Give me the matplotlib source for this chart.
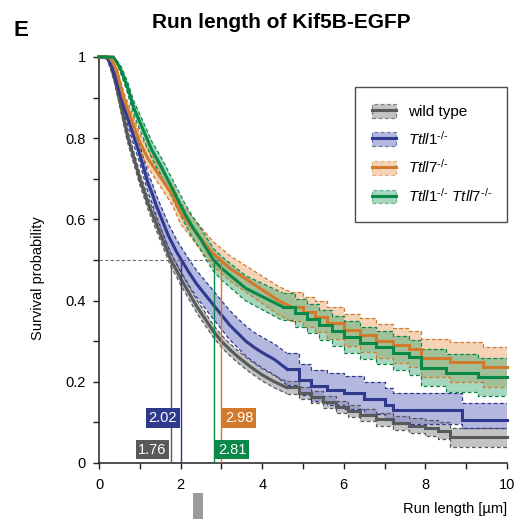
"""Kaplan-Meier style survival curves: run length of Kif5B-EGFP."""
import matplotlib
matplotlib.use("Agg")
import matplotlib.pyplot as plt
from matplotlib.patches import Patch, Rectangle
from matplotlib.lines import Line2D

plt.rcParams["font.family"] = ["Liberation Sans", "DejaVu Sans"]
plt.rcParams["mathtext.fontset"] = "custom"
plt.rcParams["mathtext.rm"] = "Liberation Sans"
plt.rcParams["mathtext.it"] = "Liberation Sans:italic"

# ---- data ----
# early parts are dense KM steps (drawn as a polyline), later parts as steps
wt_x = [0, 0.2, 0.3, 0.4, 0.5, 0.6, 0.7, 0.8, 0.9, 1.0, 1.1, 1.2, 1.3, 1.4, 1.5, 1.6,
        1.76, 1.9, 2.0, 2.2, 2.4, 2.6, 2.8, 3.0, 3.2, 3.4, 3.7, 4.0, 4.3, 4.6, 4.9,
        5.2, 5.5, 5.8, 6.1, 6.4, 6.8, 7.2, 7.6, 8.0, 8.3, 8.6, 10]
wt_y = [1, 1, 0.975, 0.94, 0.895, 0.85, 0.805, 0.77, 0.735, 0.70, 0.67, 0.64, 0.615,
        0.59, 0.565, 0.54, 0.50, 0.475, 0.455, 0.42, 0.385, 0.355, 0.325, 0.30, 0.28,
        0.262, 0.238, 0.217, 0.20, 0.186, 0.173, 0.162, 0.150, 0.137, 0.128, 0.118,
        0.108, 0.098, 0.092, 0.086, 0.08, 0.064, 0.064]
wt_lo = [1, 0.995, 0.965, 0.928, 0.882, 0.836, 0.79, 0.755, 0.72, 0.685, 0.655, 0.625,
         0.599, 0.574, 0.549, 0.524, 0.484, 0.459, 0.439, 0.404, 0.369, 0.339, 0.31,
         0.285, 0.265, 0.247, 0.223, 0.202, 0.185, 0.171, 0.158, 0.147, 0.135, 0.122,
         0.113, 0.103, 0.092, 0.081, 0.074, 0.067, 0.06, 0.04, 0.04]
wt_hi = [1, 1, 0.985, 0.952, 0.908, 0.864, 0.82, 0.785, 0.75, 0.715, 0.685, 0.655,
         0.631, 0.606, 0.581, 0.556, 0.516, 0.491, 0.471, 0.436, 0.401, 0.371, 0.34,
         0.315, 0.295, 0.277, 0.253, 0.232, 0.215, 0.201, 0.188, 0.177, 0.165, 0.152,
         0.143, 0.133, 0.124, 0.115, 0.11, 0.105, 0.1, 0.086, 0.086]

t1_x = [0, 0.2, 0.3, 0.4, 0.5, 0.6, 0.7, 0.8, 0.9, 1.0, 1.1, 1.2, 1.3, 1.4, 1.5, 1.6,
        1.7, 1.8, 1.9, 2.02, 2.2, 2.4, 2.6, 2.8, 3.0, 3.2, 3.4, 3.6, 3.8, 4.0, 4.3,
        4.6, 4.9, 5.2, 5.6, 6.0, 6.5, 7.0, 7.2, 8.9, 10]
t1_y = [1, 1, 0.98, 0.95, 0.915, 0.88, 0.85, 0.82, 0.79, 0.76, 0.725, 0.69, 0.665,
        0.635, 0.61, 0.585, 0.56, 0.54, 0.52, 0.50, 0.47, 0.44, 0.415, 0.39, 0.365,
        0.34, 0.32, 0.30, 0.285, 0.272, 0.255, 0.232, 0.205, 0.19, 0.18, 0.172,
        0.158, 0.142, 0.13, 0.106, 0.106]
t1_lo = [1, 0.995, 0.97, 0.938, 0.901, 0.864, 0.832, 0.8, 0.769, 0.738, 0.702, 0.666,
         0.64, 0.609, 0.583, 0.557, 0.531, 0.51, 0.49, 0.469, 0.438, 0.407, 0.381,
         0.355, 0.33, 0.304, 0.284, 0.263, 0.248, 0.234, 0.217, 0.193, 0.167, 0.152,
         0.142, 0.133, 0.12, 0.105, 0.095, 0.085, 0.085]
t1_hi = [1, 1, 0.99, 0.962, 0.929, 0.896, 0.868, 0.84, 0.811, 0.782, 0.748, 0.714,
         0.69, 0.661, 0.637, 0.613, 0.589, 0.57, 0.55, 0.531, 0.502, 0.473, 0.449,
         0.425, 0.4, 0.376, 0.356, 0.337, 0.322, 0.31, 0.293, 0.271, 0.245, 0.23,
         0.221, 0.214, 0.2, 0.184, 0.172, 0.147, 0.147]

t7_x = [0, 0.25, 0.35, 0.45, 0.6, 0.8, 1.0, 1.2, 1.4, 1.6, 1.8, 2.0, 2.2, 2.4, 2.6,
        2.8, 2.98, 3.2, 3.5, 3.8, 4.1, 4.4, 4.7, 5.0, 5.3, 5.6, 6.0, 6.4, 6.8, 7.2,
        7.6, 7.9, 8.6, 9.4, 10]
t7_y = [1, 1, 0.985, 0.96, 0.9, 0.845, 0.79, 0.75, 0.72, 0.69, 0.66, 0.615, 0.59,
        0.565, 0.54, 0.515, 0.5, 0.48, 0.46, 0.44, 0.42, 0.40, 0.385, 0.372, 0.36,
        0.345, 0.328, 0.315, 0.30, 0.29, 0.28, 0.259, 0.249, 0.236, 0.236]
t7_lo = [1, 1, 0.98, 0.95, 0.885, 0.827, 0.77, 0.728, 0.697, 0.666, 0.635, 0.589,
         0.563, 0.537, 0.511, 0.485, 0.47, 0.449, 0.428, 0.407, 0.386, 0.365, 0.349,
         0.335, 0.322, 0.306, 0.288, 0.274, 0.258, 0.247, 0.236, 0.212, 0.2, 0.186,
         0.186]
t7_hi = [1, 1, 0.99, 0.97, 0.915, 0.863, 0.81, 0.772, 0.743, 0.714, 0.685, 0.641,
         0.617, 0.593, 0.569, 0.545, 0.53, 0.511, 0.492, 0.473, 0.454, 0.435, 0.421,
         0.409, 0.398, 0.384, 0.368, 0.356, 0.342, 0.333, 0.324, 0.306, 0.298, 0.286,
         0.286]

dko_x = [0, 0.35, 0.45, 0.55, 0.7, 0.85, 1.0, 1.15, 1.3, 1.5, 1.7, 1.9, 2.1, 2.3,
         2.5, 2.65, 2.81, 3.0, 3.3, 3.6, 3.9, 4.2, 4.5, 4.8, 5.1, 5.4, 5.7, 6.0, 6.4,
         6.8, 7.2, 7.6, 7.9, 8.5, 9.3, 10]
dko_y = [1, 1, 0.985, 0.965, 0.925, 0.875, 0.84, 0.805, 0.77, 0.735, 0.695, 0.655,
         0.615, 0.58, 0.55, 0.525, 0.5, 0.48, 0.455, 0.43, 0.415, 0.40, 0.385, 0.37,
         0.355, 0.34, 0.325, 0.31, 0.295, 0.285, 0.27, 0.26, 0.235, 0.222, 0.212,
         0.212]
dko_lo = [1, 1, 0.98, 0.955, 0.911, 0.858, 0.821, 0.785, 0.749, 0.713, 0.672, 0.631,
          0.59, 0.554, 0.523, 0.497, 0.472, 0.451, 0.425, 0.399, 0.383, 0.367, 0.351,
          0.335, 0.319, 0.303, 0.287, 0.271, 0.255, 0.244, 0.228, 0.216, 0.19, 0.176,
          0.166, 0.166]
dko_hi = [1, 1, 0.99, 0.975, 0.939, 0.892, 0.859, 0.825, 0.791, 0.757, 0.718, 0.679,
          0.64, 0.606, 0.577, 0.553, 0.528, 0.509, 0.485, 0.461, 0.447, 0.433, 0.419,
          0.405, 0.391, 0.377, 0.363, 0.349, 0.335, 0.326, 0.312, 0.304, 0.28, 0.268,
          0.258, 0.258]

medians = [1.76, 2.02, 2.81, 2.98]
median_labels = ["1.76", "2.02", "2.81", "2.98"]

# ---- styling ----
LINE = ["#58595b", "#2f3a8f", "#d27a2c", "#0a8847"]
FILL = ["#a9aaac", "#8387c8", "#eba86f", "#4fae7c"]
ALPHA = [0.7, 0.6, 0.5, 0.5]
SUP = r"^{\text{-/-}}"
NAMES = ["wild type", r"$\mathit{Ttll1}" + SUP + "$", r"$\mathit{Ttll7}" + SUP + "$",
         r"$\mathit{Ttll1}" + SUP + r"\ \mathit{Ttll7}" + SUP + "$"]
STEP_FROM = 4.5  # beyond this x the KM steps are clearly visible

curves = [(wt_x, wt_y, wt_lo, wt_hi), (t1_x, t1_y, t1_lo, t1_hi),
          (t7_x, t7_y, t7_lo, t7_hi), (dko_x, dko_y, dko_lo, dko_hi)]


def split(x, *ys):
    """Split a series into the smooth early part and the stepped late part."""
    k = next(i for i, v in enumerate(x) if v >= STEP_FROM)
    early = [x[:k + 1]] + [y[:k + 1] for y in ys]
    late = [x[k:]] + [y[k:] for y in ys]
    return early, late


fig = plt.figure(figsize=(5.15, 5.19), dpi=100)
ax = fig.add_axes([99 / 515, 56 / 519, 408 / 515, 406 / 519])

for (x, y, lo, hi), c, f, a in zip(curves, LINE, FILL, ALPHA):
    (ex, elo, ehi), (lx, llo, lhi) = split(x, lo, hi)
    ax.fill_between(ex, elo, ehi, color=f, alpha=a, lw=0, zorder=1)
    ax.fill_between(lx, llo, lhi, step="post", color=f, alpha=a, lw=0, zorder=1)
for (x, y, lo, hi), c in zip(curves, LINE):
    (ex, elo, ehi), (lx, llo, lhi) = split(x, lo, hi)
    for b in (elo, ehi):
        ax.plot(ex, b, color=c, lw=0.9, ls=(0, (3, 2)), zorder=2, clip_on=False)
    for b in (llo, lhi):
        ax.plot(lx, b, drawstyle="steps-post", color=c, lw=0.9, ls=(0, (3, 2)),
                zorder=2)
for (x, y, lo, hi), c in zip(curves, LINE):
    (ex, ey), (lx, ly) = split(x, y)
    ax.plot(ex, ey, color=c, lw=2.2, zorder=3, clip_on=False)
    ax.plot(lx, ly, drawstyle="steps-post", color=c, lw=2.2, zorder=3,
            solid_joinstyle="miter", clip_on=False)

# median markers
ax.plot([0, max(medians)], [0.5, 0.5], color="#6d6e70", lw=0.8, ls=(0, (3, 2)), zorder=4)
med_color = [LINE[0], LINE[1], LINE[3], LINE[2]]
for m, c in zip(medians, med_color):
    ax.plot([m, m], [0, 0.5], color=c, lw=1.0, zorder=4)

box_pos = [(0.033, "right"), (0.111, "right"), (0.033, "left"), (0.111, "left")]
for m, lab, c, (yy, ha) in zip(medians, median_labels, med_color, box_pos):
    dx = -3 if ha == "right" else 3
    ax.annotate(lab, xy=(m, yy), xytext=(dx, 0), textcoords="offset points",
                ha=ha, va="center", color="white", fontsize=10.5, zorder=5,
                bbox=dict(boxstyle="square,pad=0.18", fc=c, ec="none"))

ax.set_xlim(0, 10)
ax.set_ylim(0, 1)
ax.set_xticks(range(0, 11, 2))
ax.set_xticks(range(0, 11), minor=True)
ax.set_yticks([0, 0.2, 0.4, 0.6, 0.8, 1])
ax.set_yticklabels(["0", "0.2", "0.4", "0.6", "0.8", "1"])
ax.set_yticks([i / 10 for i in range(11)], minor=True)
ax.tick_params(which="both", direction="out", length=4.5, width=1.0,
               labelsize=10.5, color="#231f20")
ax.tick_params(axis="x", pad=6)
ax.tick_params(axis="y", pad=5)
for s in ("top", "right"):
    ax.spines[s].set_visible(False)
for s in ("left", "bottom"):
    ax.spines[s].set_linewidth(1.1)
    ax.spines[s].set_color("#231f20")

handles = [(Patch(fc=f, alpha=a, ec=c, ls=(0, (3, 2)), lw=0.9),
            Line2D([], [], color=c, lw=2.2)) for c, f, a in zip(LINE, FILL, ALPHA)]
leg = ax.legend(handles, NAMES, loc="upper left",
                bbox_to_anchor=(0.627, 0.926, 0.373, 0.0), mode="expand",
                fontsize=11, frameon=True, fancybox=False, borderpad=1.1,
                labelspacing=0.7, handlelength=1.6, handleheight=1.0,
                handletextpad=0.8, borderaxespad=0)
leg.get_frame().set_edgecolor("#231f20")
leg.get_frame().set_linewidth(1.0)
leg.set_zorder(10)

fig.text(38 / 515, 1 - 278 / 519, "Survival probability", rotation=90,
         ha="center", va="center", fontsize=10.5)
fig.text(507 / 515, 1 - 509 / 519, "Run length [µm]", ha="right", va="center",
         fontsize=10.5)
fig.text(281 / 515, 1 - 23 / 519, "Run length of Kif5B-EGFP", ha="center",
         va="center", fontsize=15, fontweight="bold")
fig.text(21 / 515, 1 - 31 / 519, "E", ha="center", va="center", fontsize=16,
         fontweight="bold")
fig.patches.append(Rectangle((193 / 515, 0), 10 / 515, 26 / 519,
                             transform=fig.transFigure, fc="#9a9b9d", ec="none"))

fig.savefig("out.png", dpi=100)
